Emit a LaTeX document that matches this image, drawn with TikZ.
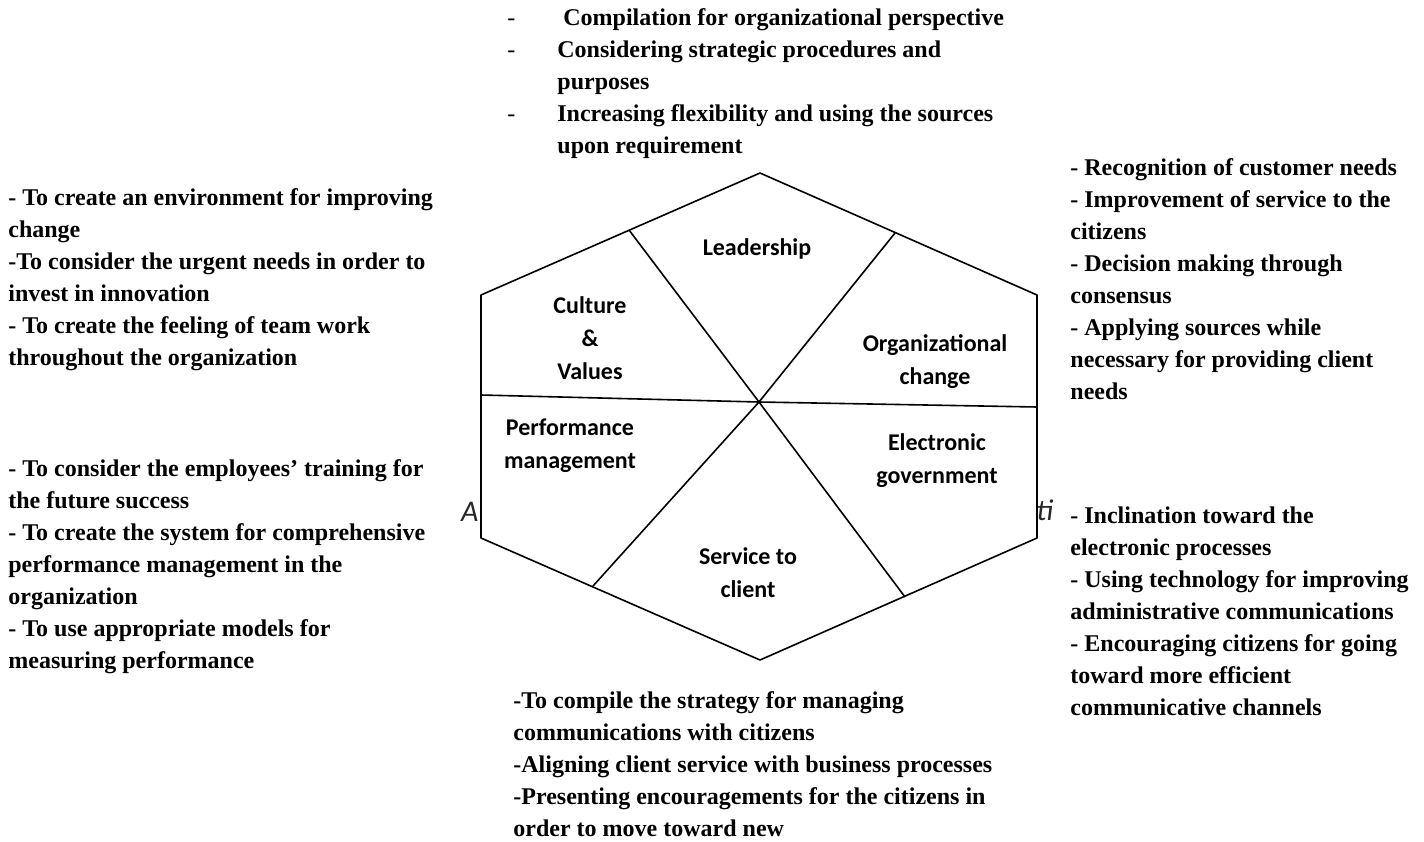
\documentclass[tikz,border=0pt]{standalone}
\usepackage{fontspec}
\setmainfont{Liberation Serif}
\newfontfamily\labelfont{Carlito}
\usetikzlibrary{calc}

\tikzset{
  listtext/.style={anchor=north west, align=left, inner sep=0pt,
    font=\bfseries\fontsize{12}{16}\selectfont},
  seglabel/.style={align=center, inner sep=0pt,
    font=\labelfont\bfseries\fontsize{12}{16.5}\selectfont},
  capfrag/.style={inner sep=0pt, text=black!85,
    font=\labelfont\itshape\fontsize{15}{17}\selectfont},
}
\newcommand{\dashitem}[1]{\makebox[25pt][l]{\mdseries -}#1}

\begin{document}
\begin{tikzpicture}[x=0.5pt, y=-0.5pt, line join=round]
\useasboundingbox (0,0) rectangle (1424,841);

% bits of a caption left under the hexagon
\node[capfrag, anchor=east] (capa) at (479,512) {A};
\node[capfrag, anchor=west] (capb) at (1036,510) {ti};

% hexagon
\coordinate (t)  at (760,173);
\coordinate (ur) at (1037,295);
\coordinate (lr) at (1037,538);
\coordinate (b)  at (760,660);
\coordinate (ll) at (481,538);
\coordinate (ul) at (481,295);
\coordinate (c)  at (759,402);
\filldraw[fill=white, thick] (t) -- (ur) -- (lr) -- (b) -- (ll) -- (ul) -- cycle;

% dividers, all through the centre
\coordinate (dul) at (629,230);
\coordinate (dur) at (895,233);
\coordinate (dl)  at (481,395);
\coordinate (dr)  at (1037,407);
\coordinate (dlr) at (905,597);
\coordinate (dll) at (593,586);
\draw[thick] (dul) -- (c) -- (dlr);
\draw[thick] (dur) -- (c) -- (dll);
\draw[thick] (dl) -- (c) -- (dr);

% segment names
\node[seglabel] (lead) at (757,249) {Leadership};
\node[seglabel] (cult) at (590,338) {Culture\\\&\\Values};
\node[seglabel] (orgc) at (935,362) {Organizational\\change};
\node[seglabel] (perf) at (570,446) {Performance\\management};
\node[seglabel] (egov) at (937,461) {Electronic\\government};
\node[seglabel] (serv) at (748,573) {Service to\\client};

% lists around the hexagon
\node[listtext] (leadtxt) at (507,8) {%
  \dashitem{\ Compilation for organizational perspective}\\
  \dashitem{Considering strategic procedures and}\\
  \hspace*{25pt}purposes\\
  \dashitem{Increasing flexibility and using the sources}\\
  \hspace*{25pt}upon requirement};

\node[listtext] (culttxt) at (8,188) {%
  - To create an environment for improving\\
  change\\
  -To consider the urgent needs in order to\\
  invest in innovation\\
  - To create the feeling of team work\\
  throughout the organization};

\node[listtext] (perftxt) at (8,459) {%
  - To consider the employees’ training for\\
  the future success\\
  - To create the system for comprehensive\\
  performance management in the\\
  organization\\
  - To use appropriate models for\\
  measuring performance};

\node[listtext] (orgctxt) at (1070,158) {%
  - Recognition of customer needs\\
  - Improvement of service to the\\
  citizens\\
  - Decision making through\\
  consensus\\
  - Applying sources while\\
  necessary for providing client\\
  needs};

\node[listtext] (egovtxt) at (1070,506) {%
  - Inclination toward the\\
  electronic processes\\
  - Using technology for improving\\
  administrative communications\\
  - Encouraging citizens for going\\
  toward more efficient\\
  communicative channels};

\node[listtext] (servtxt) at (513,691) {%
  -To compile the strategy for managing\\
  communications with citizens\\
  -Aligning client service with business processes\\
  -Presenting encouragements for the citizens in\\
  order to move toward new};

\end{tikzpicture}
\end{document}
